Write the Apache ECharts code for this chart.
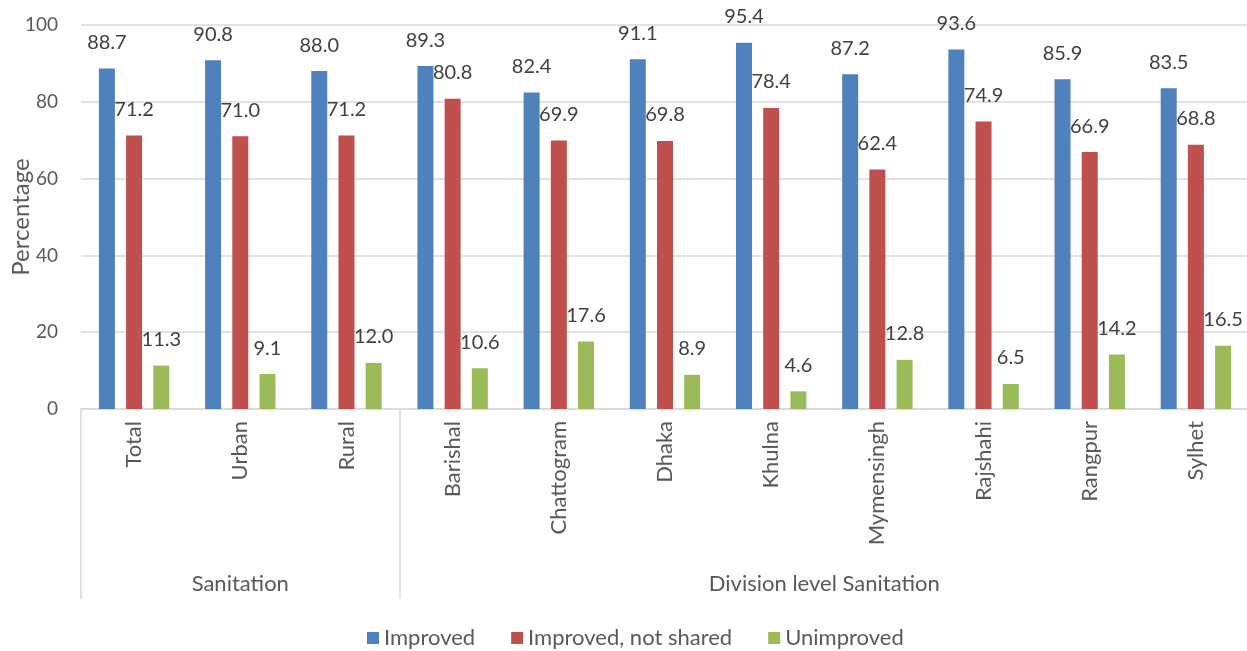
<!DOCTYPE html>
<html>
<head>
<meta charset="utf-8">
<script src="https://cdn.jsdelivr.net/npm/echarts@6/dist/echarts.min.js"></script>
<style>
	html, body { margin: 0; padding: 0; background: #fff; }
	#chart { width: 1247px; height: 651px; }
</style>
</head>
<body>
<div id="chart"></div>
<script>
	// categories along the x axis
	const categories = ['Total', 'Urban', 'Rural', 'Barishal', 'Chattogram', 'Dhaka', 'Khulna', 'Mymensingh', 'Rajshahi', 'Rangpur', 'Sylhet']
	// second level grouping under the categories
	const groupNames = ['Sanitation', 'Division level Sanitation']
	const groupBounds = [0, 3, 11]

	const improved = [88.7, 90.8, 88.0, 89.3, 82.4, 91.1, 95.4, 87.2, 93.6, 85.9, 83.5]
	const notShared = [71.2, 71.0, 71.2, 80.8, 69.9, 69.8, 78.4, 62.4, 74.9, 66.9, 68.8]
	const unimproved = [11.3, 9.1, 12.0, 10.6, 17.6, 8.9, 4.6, 12.8, 6.5, 14.2, 16.5]

	const seriesNames = ['Improved', 'Improved, not shared', 'Unimproved']
	const yTicks = { min: 0, max: 100, interval: 20 }

	// label positions for the groups: middle of each span
	const groupCenters = groupNames.map((n, i) => (groupBounds[i] + groupBounds[i + 1]) / 2)

	const font = 'Lato, "Open Sans", sans-serif'
	const grey = '#595959'

	const makeSeries = (name, data, color) => ({
		name: name,
		type: 'bar',
		xAxisIndex: 0,
		data: data,
		barWidth: 16,
		barGap: '70%',
		itemStyle: { color: color },
		label: {
			show: true,
			position: 'top',
			distance: 16,
			color: '#404040',
			fontSize: 20,
			fontFamily: font,
			formatter: p => p.value.toFixed(1)
		}
	})

	const myChart = echarts.init(document.getElementById('chart'), null, { renderer: 'canvas' })
	const option = {
		animation: false,
		textStyle: { fontFamily: font },
		grid: {
			left: 81,
			right: -2,
			top: 25,
			bottom: 242,
			containLabel: false,
			outerBoundsMode: 'none'
		},
		legend: {
			data: seriesNames,
			left: 362,
			top: 622,
			icon: 'rect',
			itemWidth: 12,
			itemHeight: 12,
			itemGap: 36,
			textStyle: { color: grey, fontSize: 22, fontFamily: font }
		},
		xAxis: [{
			type: 'category',
			data: categories,
			axisLine: { lineStyle: { color: '#d9d9d9', width: 1.5 } },
			axisTick: { show: false },
			axisLabel: {
				rotate: 90,
				margin: 12,
				color: grey,
				fontSize: 22,
				fontFamily: font
			}
		}, {
			// group level, drawn as a value axis so the spans can differ in width
			type: 'value',
			position: 'bottom',
			min: 0,
			max: categories.length,
			axisLine: { show: false },
			splitLine: { show: false },
			axisTick: {
				show: true,
				customValues: groupBounds,
				length: 190,
				lineStyle: { color: '#d9d9d9', width: 1.5 }
			},
			axisLabel: {
				customValues: groupCenters,
				margin: 164,
				color: grey,
				fontSize: 22,
				fontFamily: font,
				formatter: v => groupNames[groupCenters.indexOf(v)] || ''
			}
		}],
		yAxis: {
			type: 'value',
			min: yTicks.min,
			max: yTicks.max,
			interval: yTicks.interval,
			name: 'Percentage',
			nameLocation: 'middle',
			nameGap: 48,
			nameMoveOverlap: false,
			nameTextStyle: { color: grey, fontSize: 24, fontFamily: font },
			axisLine: { show: false },
			axisTick: { show: false },
			splitLine: { lineStyle: { color: '#d9d9d9', width: 1.5 } },
			axisLabel: { color: grey, fontSize: 19, margin: 23, fontFamily: font }
		},
		series: [
			makeSeries(seriesNames[0], improved, '#4f81bd'),
			makeSeries(seriesNames[1], notShared, '#c0504d'),
			makeSeries(seriesNames[2], unimproved, '#9bbb59')
		]
	}
	myChart.setOption(option)
</script>
</body>
</html>
